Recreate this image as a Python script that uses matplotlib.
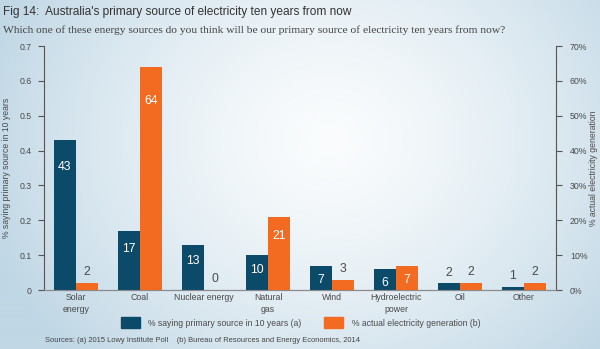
import matplotlib
matplotlib.use("Agg")
import matplotlib.pyplot as plt
import numpy as np
from matplotlib.patches import Rectangle

categories = ["Solar\nenergy", "Coal", "Nuclear energy", "Natural\ngas", "Wind",
              "Hydroelectric\npower", "Oil", "Other"]
saying_pct = [43, 17, 13, 10, 7, 6, 2, 1]          # % saying primary source in 10 years
actual_pct = [2, 64, 0, 21, 3, 7, 2, 2]             # % actual electricity generation
left_ticks = [0, 0.1, 0.2, 0.3, 0.4, 0.5, 0.6, 0.7]
left_ticklabels = ["0", "0.1", "0.2", "0.3", "0.4", "0.5", "0.6", "0.7"]
right_ticks = [0, 10, 20, 30, 40, 50, 60, 70]
right_ticklabels = ["0%", "10%", "20%", "30%", "40%", "50%", "60%", "70%"]

DARK = "#0c4a6a"
ORANGE = "#f36b21"
TXT = "#4a4a4a"

plt.rcParams['font.family'] = ['Liberation Sans', 'DejaVu Sans']

fig = plt.figure(figsize=(6.0, 3.49), dpi=100)

# background gradient
bg = fig.add_axes([0, 0, 1, 1], zorder=-10)
xx, yy = np.meshgrid(np.linspace(0, 1, 300), np.linspace(0, 1, 175))
d = np.sqrt(((xx - 0.55) / 0.6) ** 2 + ((yy - 0.6) / 0.9) ** 2)
d = np.clip(d, 0, 1)
edge = np.array([192, 215, 229]) / 255.0
center = np.array([250, 252, 253]) / 255.0
img = center[None, None, :] * (1 - d[..., None] ** 1.4) + edge[None, None, :] * (d[..., None] ** 1.4)
bg.imshow(img, aspect='auto', extent=[0, 1, 0, 1], origin='lower')
bg.axis('off')

ax = fig.add_axes([44 / 600, 1 - 290 / 349, 512 / 600, 244 / 349])
ax.patch.set_alpha(0)
ax2 = ax.twinx()
ax2.patch.set_alpha(0)

n = len(categories)
x = np.arange(n)
w = 0.344

left_vals = [v / 100 for v in saying_pct]
ax.bar(x - w / 2, left_vals, width=w, color=DARK, zorder=3)
ax2.bar(x + w / 2, actual_pct, width=w, color=ORANGE, zorder=3)

ax.set_xlim(-0.5, n - 0.5)
ax.set_ylim(0, 0.7)
ax2.set_ylim(0, 70)

LBL = 8.8
# data labels
for xi, v in zip(x, saying_pct):
    h = v / 100
    if v >= 6:
        ax.text(xi - w / 2, h - (0.034 + 0.1 * h), str(v), ha='center', va='center',
                color='white', fontsize=LBL, zorder=5)
    else:
        ax.text(xi - w / 2, h + 0.03, str(v), ha='center', va='center',
                color=TXT, fontsize=LBL, zorder=5)
for xi, v in zip(x, actual_pct):
    if v >= 6:
        ax2.text(xi + w / 2, v - (3.4 + 0.1 * v), str(v), ha='center', va='center',
                 color='white', fontsize=LBL, zorder=5)
    else:
        ax2.text(xi + w / 2, v + 3.1, str(v), ha='center', va='center',
                 color=TXT, fontsize=LBL, zorder=5)

# axes styling
for a in (ax, ax2):
    a.spines['top'].set_visible(False)
    a.spines['bottom'].set_color('#8a8a8a')
ax.spines['left'].set_color('#555555')
ax.spines['right'].set_visible(False)
ax2.spines['left'].set_visible(False)
ax2.spines['right'].set_color('#555555')

ax.set_yticks(left_ticks)
ax.set_yticklabels(left_ticklabels)
ax2.set_yticks(right_ticks)
ax2.set_yticklabels(right_ticklabels)
ax.tick_params(axis='y', direction='out', length=4, color='#555555', labelsize=6.3, labelcolor=TXT, pad=5)
ax2.tick_params(axis='y', direction='out', length=4, color='#555555', labelsize=6.3, labelcolor=TXT, pad=6)
ax.set_xticks(x)
ax.set_xticklabels(categories, fontsize=6.3, color=TXT, linespacing=1.35)
ax.tick_params(axis='x', length=0, pad=2.5)

ax.set_ylabel("% saying primary source in 10 years", fontsize=6.2, color=TXT, labelpad=6)
ax2.set_ylabel("% actual electricity generation", fontsize=6.2, color=TXT, labelpad=1)

# title and subtitle
fig.text(3 / 600, 1 - 12 / 349, "Fig 14:  Australia's primary source of electricity ten years from now",
         fontsize=8.6, color='#333333', va='center', ha='left')
fig.text(3 / 600, 1 - 30 / 349,
         "Which one of these energy sources do you think will be our primary source of electricity ten years from now?",
         fontsize=8.25, color='#444444', va='center', ha='left', family=['Liberation Serif', 'DejaVu Serif'])

# legend
fig.patches.append(Rectangle((121 / 600, 1 - 328 / 349), 19 / 600, 11 / 349, transform=fig.transFigure,
                             color=DARK))
fig.text(148 / 600, 1 - 323 / 349, "% saying primary source in 10 years (a)", fontsize=6.2, color=TXT,
         va='center', ha='left')
fig.patches.append(Rectangle((324 / 600, 1 - 328 / 349), 19 / 600, 11 / 349, transform=fig.transFigure,
                             color=ORANGE))
fig.text(352 / 600, 1 - 323 / 349, "% actual electricity generation (b)", fontsize=6.2, color=TXT,
         va='center', ha='left')

fig.text(45 / 600, 1 - 341 / 349,
         "Sources: (a) 2015 Lowy Institute Poll    (b) Bureau of Resources and Energy Economics, 2014",
         fontsize=5.4, color='#444444', va='center', ha='left')

fig.savefig("out.png", dpi=100)
